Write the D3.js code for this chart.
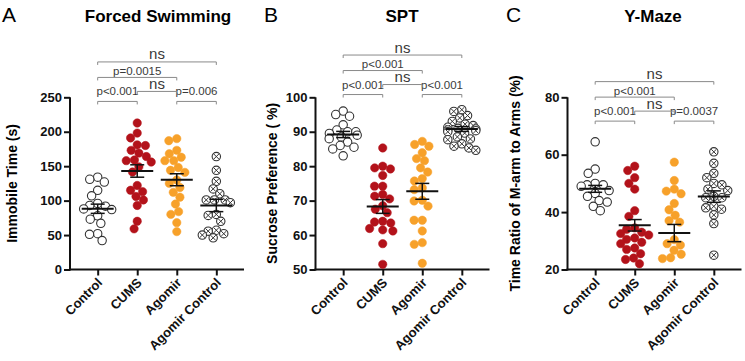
<!DOCTYPE html>
<html>
<head>
<meta charset="utf-8">
<script src="https://cdn.jsdelivr.net/npm/d3@7"></script>
<style>
  body { margin: 0; background: #fff; }
  svg { font-family: "Liberation Sans", Arial, sans-serif; }
</style>
</head>
<body>
<svg id="svg" width="745" height="361"></svg>
<script>
const SVG = d3.select("#svg"),
  BOTTOM = 269.5,
  TOP = 97.3,
  AXW = 174;

const categories = ["Control", "CUMS", "Agomir", "Agomir Control"];
const kinds = ["open", "red", "orange", "cross"];

// A: forced swimming, immobile time (s)
const swimValues = [
  [134, 131, 127, 115, 107, 96, 93, 92, 88, 87, 78, 73, 67, 52, 51, 42],
  [212.7, 198, 191, 181, 180, 173, 169, 164, 159, 158, 156, 149, 141.5, 122, 115, 113, 106, 101, 93, 70, 59],
  [190, 187, 173, 168, 163, 158, 158, 148, 144, 141, 130, 125, 119, 112, 105, 95, 84, 80, 68, 55],
  [164, 144, 128, 117, 110, 101, 101, 101, 97, 80, 78.5, 70, 57, 55.7, 52, 50, 46]
];
const swimMeans = [88.2, 143, 130.3, 93];
const swimSems = [6.7, 9, 8.7, 9];
const swimTicks = [0, 50, 100, 150, 200, 250];

// B: sucrose preference (%)
const sptValues = [
  [96, 95, 94.5, 92, 90.5, 90, 90, 89.5, 89, 88.5, 88, 87, 86, 85.5, 85, 83],
  [85.3, 80, 79.5, 79.2, 77.3, 74.2, 74.2, 71.8, 71.3, 70.5, 68.5, 67.5, 66.5, 64, 63.8, 63.5, 61.9, 61.5, 61.2, 57.5, 51.5],
  [87.2, 86.3, 85.8, 83.9, 82.2, 81.6, 79.5, 78.3, 76.4, 75.7, 73.7, 73.2, 70.1, 69.9, 68.4, 64.3, 64.3, 61.2, 57.8, 57.3, 51.8],
  [96.4, 95.9, 94.7, 94, 93, 92.2, 91.8, 91.3, 91, 90.8, 90.5, 90.3, 90, 89.6, 88.5, 87.9, 87.7, 86.5, 85.8, 85.3, 84.6]
];
const sptMeans = [89.2, 68.3, 72.7, 90.8];
const sptSems = [0.9, 2, 2.3, 0.7];
const sptTicks = [50, 60, 70, 80, 90, 100];

// C: Y-maze, time ratio of M-arm to arms (%)
const mazeValues = [
  [64.5, 55, 53.5, 50, 49.5, 49.5, 49, 47.5, 46.5, 45.5, 44, 43.5, 42, 40.5],
  [56, 54.5, 52, 50, 48, 40.5, 38.5, 34.5, 34, 33, 32.5, 32, 31, 30.5, 29.5, 29, 27.5, 27, 25.5, 24, 23.5, 22],
  [57.4, 51, 48, 47.3, 46.4, 43, 40.8, 38.9, 37, 36.5, 30.4, 29, 28.5, 26.7, 25.3, 24.1, 23.8],
  [61, 57, 53.5, 52, 50, 49.5, 48, 47.5, 45.5, 45, 45, 42, 41.5, 41, 39, 36, 25]
];
const mazeMeans = [48.1, 35.4, 32.7, 45.4];
const mazeSems = [1.2, 2, 3, 2];
const mazeTicks = [20, 40, 60, 80];

// comparisons: [group a, group b, label, tier]
const swimComps = [[0, 1, "p<0.001", 0], [2, 3, "p=0.006", 0], [1, 2, "ns", 1], [0, 2, "p=0.0015", 2], [0, 3, "ns", 3]];
const sptComps = [[0, 1, "p<0.001", 0], [2, 3, "p<0.001", 0], [1, 2, "ns", 1], [0, 2, "p<0.001", 2], [0, 3, "ns", 3]];
const mazeComps = [[0, 1, "p<0.001", 0], [2, 3, "p=0.0037", 0], [1, 2, "ns", 1], [0, 2, "p<0.001", 2], [0, 3, "ns", 3]];
const compBase = [244, 100.8, 71.7];

const panels = [
  { letter: "A", lx: 2, title: "Forced Swimming", tx: 158, x0: 70, ylab: "Immobile Time (s)", ylx: 17,
    values: swimValues, means: swimMeans, sems: swimSems, ticks: swimTicks, comps: swimComps, base: compBase[0] },
  { letter: "B", lx: 264, title: "SPT", tx: 402, x0: 315.5, ylab: "Sucrose Preference ( %)", ylx: 277,
    values: sptValues, means: sptMeans, sems: sptSems, ticks: sptTicks, comps: sptComps, base: compBase[1] },
  { letter: "C", lx: 506, title: "Y-Maze", tx: 653, x0: 567.5, ylab: "Time Ratio of M-arm to Arms (%)", ylx: 520,
    values: mazeValues, means: mazeMeans, sems: mazeSems, ticks: mazeTicks, comps: mazeComps, base: compBase[2] }
];

const COLORS = { open: "#fff", red: "#b3121a", orange: "#f7a12a", cross: "#fff" };
const R = 4.2, DIAM = 8.2, MAXDX = 14, tierOff = [0, 10, 24, 39.5];

function swarm(vals, y) {
  var pts = vals.map((v) => ({ v: v, py: y(v) })).sort((a, b) => a.py - b.py),
    placed = [];
  pts.forEach((p) => {
    var forb = [];
    placed.forEach((q) => {
      var dy = p.py - q.py;
      if (Math.abs(dy) < DIAM) {
        var w = Math.sqrt(DIAM * DIAM - dy * dy);
        forb.push([q.dx - w, q.dx + w]);
      }
    });
    var cands = [0];
    forb.forEach((f) => cands.push(f[0], f[1]));
    cands.sort((a, b) => Math.abs(a) - Math.abs(b) || a - b);
    var dx = cands.find((c) => forb.every((f) => c <= f[0] + 1e-6 || c >= f[1] - 1e-6));
    p.dx = Math.max(-MAXDX, Math.min(MAXDX, dx));
    placed.push(p);
  });
  return pts;
}

function drawPanel(p) {
  var x = d3.scalePoint().domain(categories).range([p.x0, p.x0 + AXW]).padding(0.7),
    y = d3.scaleLinear().domain(d3.extent(p.ticks)).range([BOTTOM, TOP]),
    g = SVG.append("g");

  g.append("text").attr("x", p.lx).attr("y", 22).attr("font-size", 21).text(p.letter);
  g.append("text").attr("x", p.tx).attr("y", 22).attr("font-size", 17).attr("font-weight", "bold")
    .attr("text-anchor", "middle").text(p.title);
  g.append("text").attr("transform", `translate(${p.ylx}, ${(BOTTOM + TOP) / 2}) rotate(-90)`)
    .attr("text-anchor", "middle").attr("font-size", 14).attr("font-weight", "bold").text(p.ylab);

  var ya = g.append("g").attr("transform", `translate(${p.x0}, 0)`)
    .call(d3.axisLeft(y).tickValues(p.ticks).tickSize(6).tickSizeOuter(0).tickPadding(2));
  var xa = g.append("g").attr("transform", `translate(0, ${BOTTOM})`)
    .call(d3.axisBottom(x).tickSize(6).tickSizeOuter(0));
  [ya, xa].forEach((a) => {
    a.select(".domain").attr("stroke", "#111").attr("stroke-width", 2);
    a.selectAll(".tick line").attr("stroke", "#111").attr("stroke-width", 2);
    a.selectAll(".tick text").attr("fill", "#111").attr("font-size", 13).attr("font-weight", "bold")
      .attr("font-family", "Liberation Sans, Arial, sans-serif");
  });
  ya.select(".domain").attr("d", `M0,${BOTTOM + 1}V${TOP}`);
  xa.select(".domain").attr("d", `M${p.x0 - 1},0H${p.x0 + AXW}`);
  xa.selectAll(".tick text").attr("text-anchor", "end").attr("dy", 0).attr("y", 0)
    .attr("transform", "translate(5, 14) rotate(-45)");

  // points
  p.values.forEach((vals, i) => {
    var cx = x(categories[i]), kind = kinds[i];
    var dots = g.append("g").selectAll("g").data(swarm(vals, y)).join("g")
      .attr("transform", (d) => `translate(${cx + d.dx}, ${d.py})`);
    dots.append("circle").attr("r", R).attr("fill", COLORS[kind])
      .attr("stroke", kind == "open" || kind == "cross" ? "#333" : COLORS[kind])
      .attr("stroke-width", kind == "open" || kind == "cross" ? 1.1 : 0.5);
    if (kind == "cross") {
      var k = R * 0.62;
      dots.append("path").attr("d", `M${-k},${-k}L${k},${k}M${-k},${k}L${k},${-k}`)
        .attr("stroke", "#333").attr("stroke-width", 1);
    }
  });

  // mean and SEM
  p.means.forEach((m, i) => {
    var cx = x(categories[i]), s = p.sems[i], e = g.append("g").attr("stroke", "#111");
    e.append("line").attr("x1", cx - 16).attr("x2", cx + 16).attr("y1", y(m)).attr("y2", y(m)).attr("stroke-width", 2);
    e.append("line").attr("x1", cx).attr("x2", cx).attr("y1", y(m - s)).attr("y2", y(m + s)).attr("stroke-width", 1.5);
    [m - s, m + s].forEach((v) => {
      e.append("line").attr("x1", cx - 7).attr("x2", cx + 7).attr("y1", y(v)).attr("y2", y(v)).attr("stroke-width", 1.5);
    });
  });

  // comparison brackets
  var by0 = y(p.base);
  p.comps.forEach((c) => {
    var x1 = x(categories[c[0]]), x2 = x(categories[c[1]]), by = by0 - tierOff[c[3]];
    g.append("path").attr("d", `M${x1},${by + 3}V${by}H${x2}V${by + 3}`)
      .attr("fill", "none").attr("stroke", "#8a8a8a").attr("stroke-width", 1);
    g.append("text").attr("x", (x1 + x2) / 2).attr("y", by - (c[3] == 0 ? 6 : 2.5))
      .attr("text-anchor", "middle").attr("fill", "#3a3a3a")
      .attr("font-size", c[2] == "ns" ? 15 : 11.5).text(c[2]);
  });
}

panels.forEach(drawPanel);
</script>
</body>
</html>
